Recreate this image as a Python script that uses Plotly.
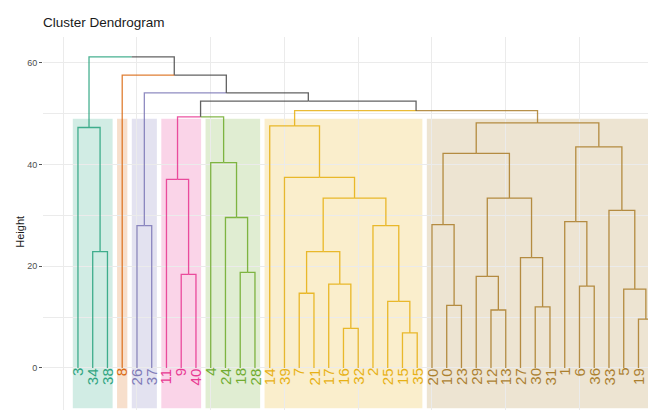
import plotly.graph_objects as go

# leaves in dendrogram order (left to right)
leaf_order = [3, 34, 38, 8, 26, 37, 11, 9, 40, 4, 24, 18, 28,
              14, 39, 7, 21, 17, 16, 32, 2, 25, 15, 35,
              20, 10, 23, 29, 12, 13, 27, 30, 31, 1, 6, 36, 33, 5, 19, 22]

# cluster (k = 7) of each leaf, same order as leaf_order
leaf_cluster = [1, 1, 1, 2, 3, 3, 4, 4, 4, 5, 5, 5, 5,
                6, 6, 6, 6, 6, 6, 6, 6, 6, 6, 6,
                7, 7, 7, 7, 7, 7, 7, 7, 7, 7, 7, 7, 7, 7, 7, 7]

cluster_colors = ['#1B9E77', '#D95F02', '#7570B3', '#E7298A', '#66A61E', '#E6AB02', '#A6761D']
cluster_fills = ['rgba(27,158,119,0.2)', 'rgba(217,95,2,0.2)', 'rgba(117,112,179,0.2)',
                 'rgba(231,41,138,0.2)', 'rgba(102,166,30,0.2)', 'rgba(230,171,2,0.2)',
                 'rgba(166,118,29,0.2)']

# hclust-style merges: negative = leaf label, positive = earlier merge (1-based)
merge_left = [-15, -16, -19, -12, -30, -10, -25, -7, -5, -6, -17, -29, -9, -18, -27, -34, 8,
              -26, -2, -20, -1, -24, -33, 17, 12, -11, -39, -4, 20, 21, -3, -14, 29, 26, 32,
              34, 18, -8, 31]
merge_right = [-35, -32, -22, -13, -31, -23, 1, -21, 3, -36, 2, 4, -40, -28, 5, -38, 11,
               -37, 7, 6, 10, 14, 9, 19, 15, 13, 24, 22, 25, 23, 16, 27, 30, 28, 33,
               35, 36, 37, 38]
merge_height = [6.9, 7.8, 9.6, 11.4, 12.0, 12.3, 13.1, 14.7, 15.5, 16.1, 16.5, 18.0, 18.4,
                18.8, 21.7, 22.9, 22.9, 28.0, 28.0, 28.2, 28.8, 29.6, 31.0, 33.4, 33.4,
                37.1, 37.5, 40.4, 42.2, 43.5, 47.3, 47.6, 48.2, 49.4, 50.6, 52.5, 54.1,
                57.6, 61.2]

rect_top = 49.0
rect_bottom = -7.9

leaf_pos = {lab: i + 1 for i, lab in enumerate(leaf_order)}
leaf_cl = {lab: c for lab, c in zip(leaf_order, leaf_cluster)}


def node_info(ref, info):
    # returns (x, height, cluster or 0 if mixed)
    if ref < 0:
        return leaf_pos[-ref], 0.0, leaf_cl[-ref]
    return info[ref - 1]


info = []
segs = {}
for l, r, h in zip(merge_left, merge_right, merge_height):
    lx, lh, lc = node_info(l, info)
    rx, rh, rc = node_info(r, info)
    px = (lx + rx) / 2
    for cx, ch, cc in ((lx, lh, lc), (rx, rh, rc)):
        xs, ys = segs.setdefault(cc, ([], []))
        xs += [px, cx, cx, None]
        ys += [h, h, ch, None]
    info.append((px, h, lc if lc == rc else 0))

fig = go.Figure()

for cc, (xs, ys) in segs.items():
    col = '#3c3c3c' if cc == 0 else cluster_colors[cc - 1]
    fig.add_trace(go.Scatter(x=xs, y=ys, mode='lines', line=dict(color=col, width=1.3),
                             opacity=0.8, hoverinfo='skip', showlegend=False))

# cluster rectangles
for k in range(1, 8):
    pos = [i + 1 for i, c in enumerate(leaf_cluster) if c == k]
    fig.add_shape(type='rect', x0=min(pos) - 0.35, x1=max(pos) + 0.35,
                  y0=rect_bottom, y1=rect_top, xref='x', yref='y',
                  fillcolor=cluster_fills[k - 1], line=dict(width=0), layer='below')

# leaf labels
for lab, c in zip(leaf_order, leaf_cluster):
    fig.add_annotation(x=leaf_pos[lab], y=0, text=str(lab), textangle=-90,
                       xanchor='center', yanchor='top', yshift=2, showarrow=False,
                       opacity=0.9, font=dict(size=15, color=cluster_colors[c - 1]))

fig.add_annotation(x=-0.037, xref='paper', y=26.8, yref='y', text='Height',
                   textangle=-90, xanchor='center', yanchor='middle', showarrow=False,
                   font=dict(size=11, color='#1a1a1a'))

fig.update_layout(
    width=656, height=410,
    margin=dict(l=35, r=0, t=29, b=0),
    paper_bgcolor='white', plot_bgcolor='white',
    font=dict(family='Liberation Sans, Arial, sans-serif'),
    title=dict(text='Cluster Dendrogram', x=0, xref='paper', xanchor='left',
               y=1 - 14 / 410, yref='container', yanchor='middle',
               font=dict(size=13.5, color='#1a1a1a')),
    showlegend=False,
)
fig.update_xaxes(range=[-1.37, 40.73], tick0=0, dtick=5, showticklabels=False,
                 showgrid=True, gridcolor='#ebebeb', gridwidth=1, zeroline=False)
fig.update_yaxes(range=[-9.84, 65.1], tickvals=[0, 20, 40, 60], showgrid=True,
                 gridcolor='#ebebeb', gridwidth=1, zeroline=False,
                 ticks='outside', ticklen=3, tickcolor='#555', tickwidth=1,
                 tickfont=dict(size=9, color='#4d4d4d'),
                 minor=dict(dtick=10, tick0=0, showgrid=True, gridcolor='#ebebeb', gridwidth=1))

fig.write_html("out.html")
